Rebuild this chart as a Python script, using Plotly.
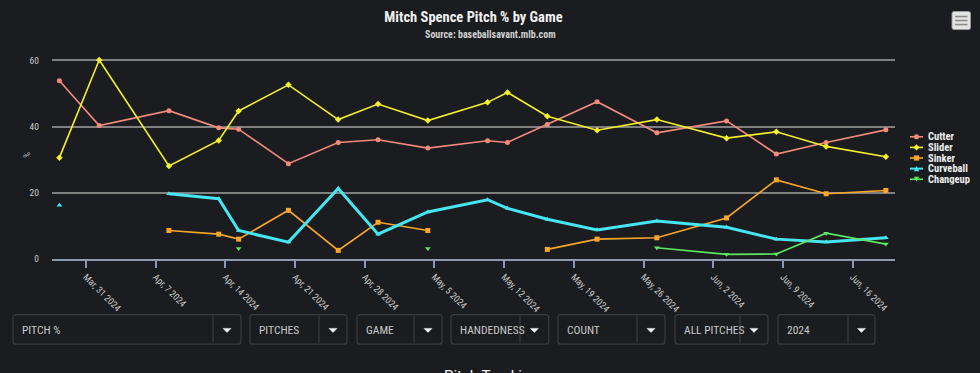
import plotly.graph_objects as go
import pandas as pd

# ---------------- data ----------------
game_dates = ["2024-03-28", "2024-04-01", "2024-04-08", "2024-04-13", "2024-04-15", "2024-04-20",
              "2024-04-25", "2024-04-29", "2024-05-04", "2024-05-10", "2024-05-12", "2024-05-16",
              "2024-05-21", "2024-05-27", "2024-06-03", "2024-06-08", "2024-06-13", "2024-06-19"]

cutter = [53.8, 40.3, 44.8, 39.6, 39.2, 28.8, 35.2, 36.0, 33.5, 35.7, 35.2, 40.6, 47.5, 38.1, 41.7, 31.7, 35.2, 39.0]
slider = [30.6, 60.1, 28.1, 35.8, 44.7, 52.6, 42.1, 46.8, 41.8, 47.3, 50.3, 43.1, 38.9, 42.1, 36.5, 38.4, 34.0, 30.9]
sinker = [None, None, 8.6, 7.5, 6.0, 14.7, 2.6, 11.1, 8.6, None, None, 2.9, 6.0, 6.4, 12.4, 23.9, 19.7, 20.7]
curveball = [16.2, None, 19.7, 18.2, 8.6, 5.1, 21.3, 7.5, 14.2, 17.9, 15.3, 12.0, 8.8, 11.5, 9.6, 6.0, 5.1, 6.4]
changeup = [None, None, None, None, 3.2, None, None, None, 3.2, None, None, None, None, 3.4, 1.4, 1.5, 7.8, 4.5]

series_names = ["Cutter", "Slider", "Sinker", "Curveball", "Changeup"]
y_ticks = [0, 20, 40, 60]
x_ticks = ["2024-03-31", "2024-04-07", "2024-04-14", "2024-04-21", "2024-04-28", "2024-05-05",
           "2024-05-12", "2024-05-19", "2024-05-26", "2024-06-02", "2024-06-09", "2024-06-16"]
dropdown_labels = ["PITCH %", "PITCHES", "GAME", "HANDEDNESS", "COUNT", "ALL PITCHES", "2024"]

# ---------------- style ----------------
BG = "#1b1c1f"
FONT = "Liberation Sans Narrow, Roboto Condensed, Roboto, sans-serif"
colors = ["#f28b7c", "#f2ef2c", "#f9a72b", "#45e6f2", "#5ee862"]
symbols = ["circle", "diamond", "square", "triangle-up", "triangle-down"]
widths = [1.6, 1.6, 1.6, 3, 1.6]

# points are drawn at the chart's local-time offset
x_vals = pd.to_datetime(game_dates) + pd.Timedelta(hours=8)

W, H = 980, 373
Y_TOP = 61
L, R, B = 52, 895, 259.0
T = 60.7 - (Y_TOP - 60) * (B - 60.7) / 60


def px(x):
    return (x - L) / (R - L)


def py(y):
    return (B - y) / (B - T)


fig = go.Figure()
for name, vals, c, s, w in zip(series_names, [cutter, slider, sinker, curveball, changeup], colors, symbols, widths):
    fig.add_trace(go.Scatter(
        x=x_vals, y=vals, name=name, mode="lines+markers",
        line=dict(color=c, width=w),
        marker=dict(symbol=s, size=5, color=c),
        cliponaxis=False, showlegend=False,
    ))

shapes = []
annotations = []

# subtitle
annotations.append(dict(text="<b>Source: baseballsavant.mlb.com</b>", x=px(490), y=py(35), xref="paper", yref="paper",
                        showarrow=False, font=dict(size=10, color="#cfcfcf", family=FONT), xanchor="center", yanchor="middle"))
# y-axis title
annotations.append(dict(text="%", x=px(20), y=py(155), xref="paper", yref="paper", textangle=-90,
                        showarrow=False, font=dict(size=9, color="#bbbbbb", family=FONT)))


def rounded_rect(x0, y0, x1, y1, r=3):
    X0, X1 = px(x0), px(x1)
    Y0, Y1 = py(y0), py(y1)
    rx = r / (R - L)
    ry = r / (B - T)
    return (f"M{X0+rx},{Y0} L{X1-rx},{Y0} Q{X1},{Y0} {X1},{Y0-ry} L{X1},{Y1+ry} Q{X1},{Y1} {X1-rx},{Y1} "
            f"L{X0+rx},{Y1} Q{X0},{Y1} {X0},{Y1+ry} L{X0},{Y0-ry} Q{X0},{Y0} {X0+rx},{Y0} Z")


def marker_path(sym, cx, cy, r=2.6):
    pts = None
    if sym == "square":
        pts = [(-r, -r), (r, -r), (r, r), (-r, r)]
    elif sym == "diamond":
        pts = [(0, -r * 1.2), (r * 1.2, 0), (0, r * 1.2), (-r * 1.2, 0)]
    elif sym == "triangle-up":
        pts = [(0, -r), (r, r), (-r, r)]
    elif sym == "triangle-down":
        pts = [(-r, -r), (r, -r), (0, r)]
    if pts is None:
        return None
    return "M" + " L".join(f"{px(cx+dx)},{py(cy+dy)}" for dx, dy in pts) + " Z"


# custom legend (compact spacing as in the original)
leg_y = [137, 147.6, 158.2, 168.8, 179.4]
for name, c, s, w, ly in zip(series_names, colors, symbols, widths, leg_y):
    shapes.append(dict(type="line", x0=px(910), x1=px(923), y0=py(ly), y1=py(ly), xref="paper", yref="paper",
                       line=dict(color=c, width=min(w, 2))))
    mp = marker_path(s, 916.5, ly)
    if mp is None:
        shapes.append(dict(type="circle", x0=px(914), x1=px(919), y0=py(ly - 2.5), y1=py(ly + 2.5),
                           xref="paper", yref="paper", fillcolor=c, line=dict(color=c, width=0)))
    else:
        shapes.append(dict(type="path", path=mp, xref="paper", yref="paper", fillcolor=c, line=dict(color=c, width=0)))
    annotations.append(dict(text=f"<b>{name}</b>", x=px(927), y=py(ly), xref="paper", yref="paper", showarrow=False,
                            xanchor="left", yanchor="middle", height=10.5, borderpad=0,
                            font=dict(size=10.5, color="#eeeeee", family=FONT)))

# dropdown boxes (left, divider, right) in pixels
boxes = [(13, 213, 241), (250, 319, 347), (357, 414, 442), (451, 520, 548.7),
         (558, 637, 665), (675, 740, 768), (778, 848, 875)]
by0, by1 = 314.5, 344
for label, (bx0, bdiv, bx1) in zip(dropdown_labels, boxes):
    shapes.append(dict(type="path", path=rounded_rect(bx0, by0, bx1, by1), xref="paper", yref="paper",
                       line=dict(color="#3a3b3f", width=1.2), fillcolor=BG, layer="above"))
    shapes.append(dict(type="line", x0=px(bdiv), x1=px(bdiv), y0=py(by0 + 1), y1=py(by1 - 1), xref="paper", yref="paper",
                       line=dict(color="#3a3b3f", width=1.2)))
    cx = (bdiv + bx1) / 2
    cy = (by0 + by1) / 2 + 0.5
    tri = f"M{px(cx-4)},{py(cy-1.5)} L{px(cx+4)},{py(cy-1.5)} L{px(cx)},{py(cy+2.5)} Z"
    shapes.append(dict(type="path", path=tri, xref="paper", yref="paper", fillcolor="#f2f2f2",
                       line=dict(color="#f2f2f2", width=0.5)))
    annotations.append(dict(text=label, x=px(bx0 + 7), y=py(cy), xref="paper", yref="paper", showarrow=False,
                            xanchor="left", yanchor="middle", font=dict(size=11.5, color="#c8c8c8", family=FONT)))

# bottom heading (partly off-screen, as in the original page)
annotations.append(dict(text="Pitch Tracking", x=px(491), y=py(365), xref="paper", yref="paper", showarrow=False,
                        xanchor="center", yanchor="top", font=dict(size=15, color="#f2f2f2", family="Roboto")))

# context menu icon
shapes.append(dict(type="path", path=rounded_rect(952, 12, 970.5, 30, 2), xref="paper", yref="paper",
                   fillcolor="#e4e4e4", line=dict(color="#9a9a9a", width=1)))
for yy in (17, 21, 25):
    shapes.append(dict(type="line", x0=px(955), x1=px(967.5), y0=py(yy), y1=py(yy), xref="paper", yref="paper",
                       line=dict(color="#8f8a86", width=1.6)))

fig.update_layout(
    width=W, height=H,
    paper_bgcolor=BG, plot_bgcolor=BG,
    margin=dict(l=L, r=W - R, t=T, b=H - B, pad=0, autoexpand=False),
    title=dict(text="<b>Mitch Spence Pitch % by Game</b>", x=0.5, xanchor="center", xref="paper",
               y=1 - 17 / H, yanchor="middle", font=dict(size=14.5, color="#f0f0f0", family=FONT)),
    font=dict(family=FONT, color="#cccccc"),
    showlegend=False,
    shapes=shapes,
    annotations=annotations,
    hovermode="x",
)

fig.update_xaxes(
    type="date",
    range=["2024-03-27 14:10", "2024-06-20 06:00"],
    tickvals=x_ticks, tickformat="%b, %-d %Y", tickangle=45,
    ticks="outside", ticklen=7, tickwidth=1.5, tickcolor="#8a9ab0",
    showline=True, linecolor="#8a9ab0", linewidth=1.5,
    showgrid=False, zeroline=False, automargin=False,
    tickfont=dict(size=9.5, color="#c9c9c9", family=FONT),
)
fig.update_yaxes(
    range=[0, Y_TOP], tickvals=y_ticks,
    showgrid=True, gridcolor="#808080", gridwidth=2,
    zeroline=False, showline=False, ticks="", ticklabelstandoff=12, automargin=False,
    tickfont=dict(size=9.5, color="#c9c9c9", family=FONT),
)

fig.write_html("out.html", config={"displayModeBar": False},
               post_script="document.body.style.margin='0';document.body.style.background='" + BG + "';")
